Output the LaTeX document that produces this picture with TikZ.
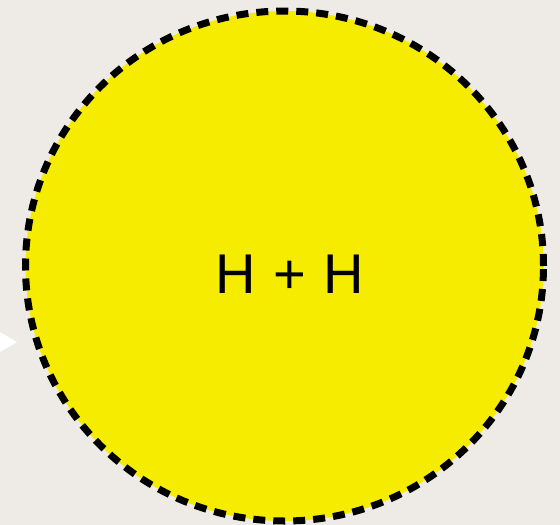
\documentclass[tikz,border=0pt]{standalone}
\usepackage{fontspec}
\setmainfont{Liberation Sans}
\definecolor{bg}{HTML}{EEEBE6}
\definecolor{sun}{HTML}{F5EC00}
\tikzset{
  bubble/.style={ellipse, fill=sun, draw=black, line width=7pt, dash pattern=on 12pt off 8pt, minimum width=518pt, minimum height=510pt, inner sep=0pt},
  pointer/.style={fill=white, draw=none}
}
\usetikzlibrary{shapes.geometric}
\begin{document}
\begin{tikzpicture}[x=1pt,y=-1pt]
\fill[bg] (0,0) rectangle (560,525);
\useasboundingbox (0,0) rectangle (560,525);
\fill[pointer] (0,332) -- (17,342) -- (0,352) -- cycle;
\node[bubble] (c) at (284.5,266) {};
\node[font=\fontsize{56}{60}\selectfont] (t) at (289.5,274) {H\ \kern2pt+\ \kern2pt H};
\end{tikzpicture}
\end{document}
